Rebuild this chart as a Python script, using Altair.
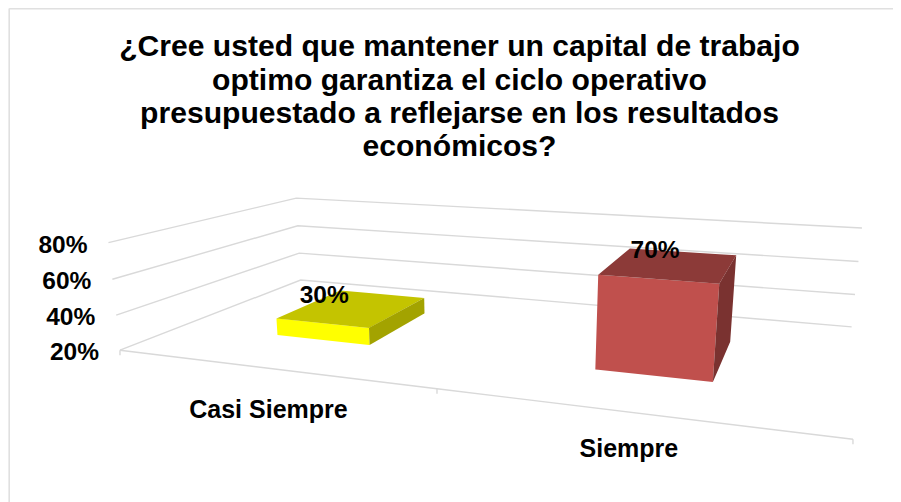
import numpy as np
import pandas as pd
import altair as alt

# ---- chart content ----
title_lines = [
    "¿Cree usted que mantener un capital de trabajo",
    "optimo garantiza el ciclo operativo",
    "presupuestado a reflejarse en los resultados",
    "económicos?",
]
categories = ["Casi Siempre", "Siempre"]
values = [30, 70]
axis_ticks = [20, 40, 60, 80]
axis_min = 20

front_colors = ["#FFFF00", "#C0504D"]
top_colors = ["#C4C400", "#8C3A38"]
side_colors = ["#A3A300", "#7A3230"]
grid_color = "#D9D9D9"

# ---- page geometry and the 3-D view (category, depth, value -> page pixels) ----
W, H, ORIGIN = 885, 494, 8
VIEW = np.array([
    [262.38665698, 277.05966686, -0.24410707, 123.66981722],
    [-7.63532578, 21.94305818, -1.89591716, 384.61129384],
    [-0.11776534, 0.32649175, -0.00049841, 1.0],
])
BAR_X = (0.342, 0.657)      # bar span inside its category slot
BAR_DEPTH = (0.295, 0.695)  # bar span along the depth axis
TICK_LABEL_GAP = 21
TICK_LABEL_DROP = 3
TICK_LEN = 5
CAT_LABEL_SHIFT = [(0, 42), (-1, 37)]
VALUE_LABEL_SHIFT = [(-58, 1.5), (-28, -1)]


def proj(x, d, z):
    r = VIEW @ np.array([x, d, z, 1.0])
    return r[0] / r[2], r[1] / r[2]


x_scale = alt.Scale(domain=[ORIGIN, ORIGIN + W], range=[0, W])
y_scale = alt.Scale(domain=[ORIGIN + H, ORIGIN], range=[H, 0])
X = alt.X("x:Q", scale=x_scale, axis=None)
Y = alt.Y("y:Q", scale=y_scale, axis=None)


def face_rows(corners, face, colour):
    """Convex polygon as upper/lower outline, so an area mark can fill it."""
    pts = corners + [corners[0]]
    xs = sorted({p[0] for p in corners})
    rows = []
    for sx in xs:
        hits = []
        for (x0, y0), (x1, y1) in zip(pts[:-1], pts[1:]):
            lo, hi = min(x0, x1), max(x0, x1)
            if lo <= sx <= hi:
                if x0 == x1:
                    hits += [y0, y1]
                else:
                    hits.append(y0 + (y1 - y0) * (sx - x0) / (x1 - x0))
        rows.append({"x": sx, "y": min(hits), "y2": max(hits), "face": face, "colour": colour})
    return rows


# gridlines: left wall + back wall at each tick
grid_rows = []
for t in axis_ticks:
    for i, (cx, d) in enumerate([(0, 0), (0, 1), (2, 1)]):
        px, py = proj(cx, d, t)
        grid_rows.append({"x": px, "y": py, "line": f"g{t}", "o": i})
# floor front edge
for i, cx in enumerate(np.arange(len(categories) + 1)):
    px, py = proj(cx, 0, axis_min)
    grid_rows.append({"x": px, "y": py, "line": "front", "o": i})
    grid_rows.append({"x": px, "y": py, "line": f"tick{i}", "o": 0})
    grid_rows.append({"x": px, "y": py + TICK_LEN, "line": f"tick{i}", "o": 1})
grid = (
    alt.Chart(pd.DataFrame(grid_rows))
    .mark_line(color=grid_color, strokeWidth=1.4)
    .encode(x=X, y=Y, detail="line:N", order="o:Q")
)

# light outer frame of the picture
frame_rows = [
    {"x": ORIGIN + 1.2, "y": ORIGIN + H, "line": "left", "o": 0},
    {"x": ORIGIN + 1.2, "y": ORIGIN + 0.6, "line": "left", "o": 1},
    {"x": ORIGIN + 1.2, "y": ORIGIN + 0.6, "line": "top", "o": 0},
    {"x": ORIGIN + W, "y": ORIGIN + 0.6, "line": "top", "o": 1},
]
frame = (
    alt.Chart(pd.DataFrame(frame_rows))
    .mark_line(color="#E0E0E0", strokeWidth=1.6)
    .encode(x=X, y=Y, detail="line:N", order="o:Q")
)

# 3-D bars
face_data = []
for i, v in enumerate(values):
    x0, x1 = i + BAR_X[0], i + BAR_X[1]
    d0, d1 = BAR_DEPTH
    z0, z1 = axis_min, v
    face_data += face_rows(
        [proj(x0, d0, z1), proj(x1, d0, z1), proj(x1, d0, z0), proj(x0, d0, z0)],
        f"{i}a", front_colors[i])
    face_data += face_rows(
        [proj(x0, d1, z1), proj(x1, d1, z1), proj(x1, d0, z1), proj(x0, d0, z1)],
        f"{i}b", top_colors[i])
    face_data += face_rows(
        [proj(x1, d0, z1), proj(x1, d1, z1), proj(x1, d1, z0), proj(x1, d0, z0)],
        f"{i}c", side_colors[i])
bars = (
    alt.Chart(pd.DataFrame(face_data))
    .mark_area(interpolate="linear", strokeWidth=0)
    .encode(
        x=X,
        y=alt.Y("y:Q", scale=y_scale, axis=None, stack=None),
        y2="y2:Q",
        detail="face:N",
        fill=alt.Fill("colour:N", scale=None),
    )
)

# texts
FONT = "Liberation Sans"
tick_rows = []
for t in axis_ticks:
    px, py = proj(0, 0, t)
    tick_rows.append({"x": px - TICK_LABEL_GAP, "y": py + TICK_LABEL_DROP, "t": f"{t}%"})
tick_labels = (
    alt.Chart(pd.DataFrame(tick_rows))
    .mark_text(font=FONT, fontWeight="bold", fontSize=24.5, align="right", baseline="middle", color="black")
    .encode(x=X, y=Y, text="t:N")
)

cat_rows = []
for i, c in enumerate(categories):
    px, py = proj(i + 0.5, 0, axis_min)
    cat_rows.append({"x": px + CAT_LABEL_SHIFT[i][0], "y": py + CAT_LABEL_SHIFT[i][1], "t": c})
cat_labels = (
    alt.Chart(pd.DataFrame(cat_rows))
    .mark_text(font=FONT, fontWeight="bold", fontSize=25, align="center", baseline="middle", color="black")
    .encode(x=X, y=Y, text="t:N")
)

val_rows = []
for i, v in enumerate(values):
    px, py = proj(i + BAR_X[1], BAR_DEPTH[1], v)
    px2, py2 = proj(i + BAR_X[0], BAR_DEPTH[1], v)
    val_rows.append({"x": (px + px2) / 2 + VALUE_LABEL_SHIFT[i][0],
                     "y": (py + py2) / 2 + VALUE_LABEL_SHIFT[i][1], "t": f"{v}%"})
val_labels = (
    alt.Chart(pd.DataFrame(val_rows))
    .mark_text(font=FONT, fontWeight="bold", fontSize=24.5, align="center", baseline="middle", color="black")
    .encode(x=X, y=Y, text="t:N")
)

chart = (
    alt.layer(frame, grid, bars, tick_labels, cat_labels, val_labels)
    .properties(
        width=W,
        height=H,
        padding=0,
        background="white",
        autosize=alt.AutoSizeParams(type="none"),
        title=alt.TitleParams(
            text=title_lines,
            font=FONT,
            fontSize=30.1,
            fontWeight="bold",
            color="black",
            lineHeight=33.3,
            anchor="middle",
            frame="group",
            baseline="top",
            dx=9,
            dy=157,
            offset=0,
        ),
    )
    .configure_view(stroke=None)
)
chart.save("out.html", embed_options={"renderer": "svg", "actions": False})
